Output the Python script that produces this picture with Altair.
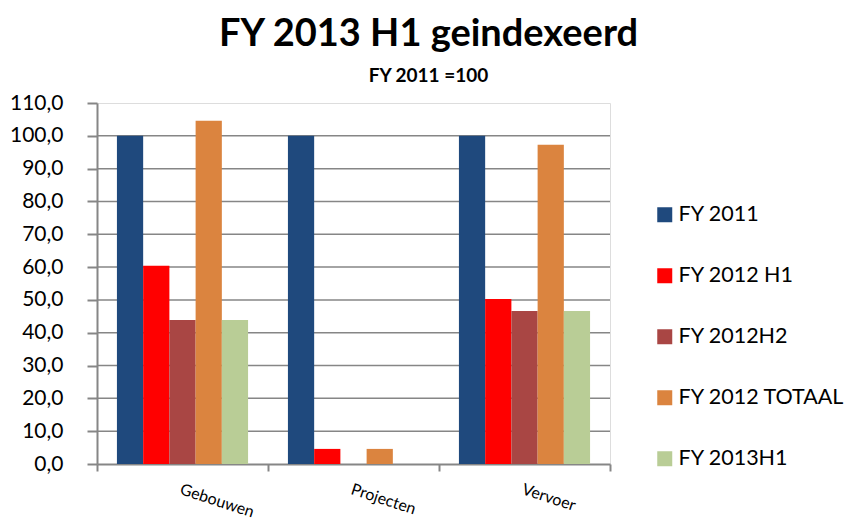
import altair as alt
import pandas as pd

categories = ["Gebouwen", "Projecten", "Vervoer"]
series = ["FY 2011", "FY 2012 H1", "FY 2012H2", "FY 2012 TOTAAL", "FY 2013H1"]
fy2011 = [100.0, 100.0, 100.0]
fy2012_h1 = [60.4, 4.6, 50.3]
fy2012_h2 = [43.9, 0.0, 46.6]
fy2012_totaal = [104.6, 4.6, 97.3]
fy2013_h1 = [43.9, 0.0, 46.6]
colors = ["#1F497D", "#FF0000", "#A94644", "#DB843F", "#B9CD96"]
y_ticks = [0, 10, 20, 30, 40, 50, 60, 70, 80, 90, 100, 110]
grid_values = [10, 20, 30, 40, 50, 60, 70, 80, 90, 100]

rows = []
for s, vals in zip(series, [fy2011, fy2012_h1, fy2012_h2, fy2012_totaal, fy2013_h1]):
    for c, v in zip(categories, vals):
        rows.append({"Categorie": c, "Reeks": s, "Waarde": v})
df = pd.DataFrame(rows)
grid_df = pd.DataFrame({"Waarde": grid_values})

FONT = "Lato"
GRAY = "#868686"
yscale = alt.Scale(domain=[0, 110], nice=False)
y_axis = alt.Axis(
    title=None, values=y_ticks, grid=False,
    labelExpr="replace(format(datum.value, '.1f'), '.', ',')",
    labelFont=FONT, labelFontSize=21, labelColor="#000000",
    labelPadding=24, tickSize=10, tickColor=GRAY, tickWidth=2,
    domainColor=GRAY, domainWidth=2, orient="left",
)

grid = alt.Chart(grid_df).mark_rule(color=GRAY, strokeWidth=1.5).encode(
    y=alt.Y("Waarde:Q", scale=yscale, axis=y_axis),
)

bars = alt.Chart(df).mark_bar().encode(
    x=alt.X(
        "Categorie:N", sort=categories,
        scale=alt.Scale(paddingInner=0, paddingOuter=0),
        axis=alt.Axis(
            title=None, labelAngle=18, labelFontSize=16, labelFont=FONT,
            labelColor="#000000", labelPadding=10, tickBand="extent",
            tickSize=7, tickColor=GRAY, tickWidth=2, domainColor=GRAY,
            domainWidth=2, grid=False, labelAlign="left", labelBaseline="top",
        ),
    ),
    xOffset=alt.XOffset(
        "Reeks:N", sort=series,
        scale=alt.Scale(paddingInner=0, paddingOuter=0.76),
    ),
    y=alt.Y("Waarde:Q", scale=yscale, axis=y_axis),
    color=alt.Color(
        "Reeks:N", sort=series,
        scale=alt.Scale(domain=series, range=colors),
        legend=alt.Legend(
            title=None, orient="none", legendX=557, legendY=101,
            symbolType="square", symbolSize=225, symbolStrokeWidth=0,
            labelFont=FONT, labelFontSize=21.5, labelColor="#000000",
            rowPadding=38, labelOffset=3, labelLimit=400,
        ),
    ),
)

chart = alt.layer(grid, bars).properties(
    width=513,
    height=361,
    title=alt.TitleParams(
        text="FY 2013 H1 geindexeerd",
        subtitle="FY 2011 =100",
        font=FONT, fontSize=38, fontWeight="bold", color="#000000",
        subtitleFont=FONT, subtitleFontSize=19, subtitleFontWeight="bold",
        subtitleColor="#000000", anchor="middle", dx=75, offset=6,
        subtitlePadding=13,
    ),
    padding={"left": 89, "top": 95, "right": 237, "bottom": 57},
    autosize="none",
).configure_view(stroke=None).configure(background="white")

chart.save("out.html", embed_options={"renderer": "svg", "actions": False})
